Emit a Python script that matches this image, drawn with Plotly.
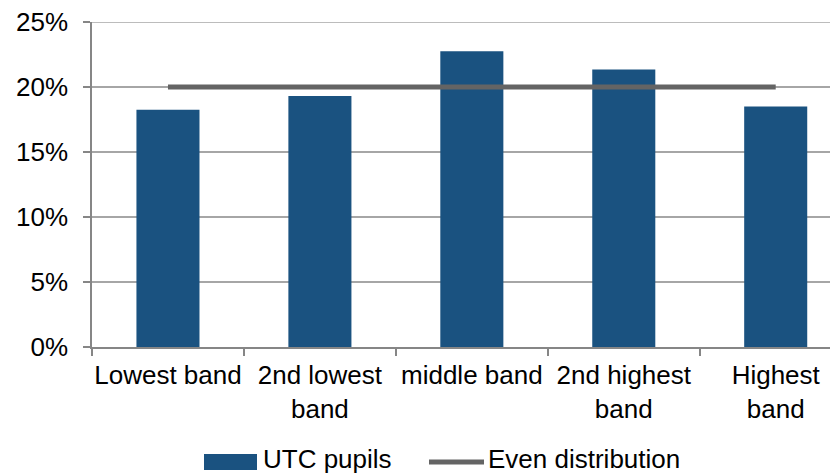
import plotly.graph_objects as go

categories = ["Lowest band", "2nd lowest<br>band", "middle band", "2nd highest<br>band", "Highest<br>band"]
utc_pupils = [18.25, 19.3, 22.75, 21.35, 18.5]
even_distribution = [20, 20, 20, 20, 20]
y_ticks = [0, 5, 10, 15, 20, 25]
y_tick_labels = ["0%", "5%", "10%", "15%", "20%", "25%"]

BAR_COLOR = "#1A5280"
LINE_COLOR = "#646464"
GRID_COLOR = "#a6a6a6"
FONT = "Liberation Sans, Arial, sans-serif"

# The page body has an 8px default margin, so the figure is 8px smaller
# and its margins are shifted to land the plot area where the original is.
fig = go.Figure()
fig.add_trace(go.Bar(x=categories, y=utc_pupils, name="UTC pupils",
                     marker=dict(color=BAR_COLOR, line=dict(width=0)),
                     showlegend=False))
fig.add_trace(go.Scatter(x=categories, y=even_distribution, name="Even distribution",
                         mode="lines", line=dict(color=LINE_COLOR, width=5),
                         showlegend=False, cliponaxis=False))

fig.update_layout(
    width=830, height=466,
    margin=dict(l=84, r=0, t=14, b=127, autoexpand=False),
    paper_bgcolor="white", plot_bgcolor="white",
    bargap=0.585,
    font=dict(family=FONT, size=26, color="#000000"),
    showlegend=False,
)
fig.update_xaxes(
    range=[-0.5, 4.41], automargin=False, tickangle=0,
    showline=True, linecolor="#868686", linewidth=1.5,
    ticks="outside", ticklen=7, tickcolor="#868686", tickwidth=1.5,
    tickson="boundaries", showgrid=False, ticklabelstandoff=4,
    ticklabeloverflow="allow",
    tickfont=dict(size=26, family=FONT),
)
fig.update_yaxes(
    range=[0, 25], tickvals=y_ticks, ticktext=y_tick_labels, automargin=False,
    showline=True, linecolor="#868686", linewidth=1.5,
    ticks="outside", ticklen=7, tickcolor="#868686", tickwidth=1.5,
    showgrid=True, gridcolor=GRID_COLOR, gridwidth=1.5,
    zeroline=False, ticklabelstandoff=10, ticklabeloverflow="allow",
    tickfont=dict(size=26, family=FONT),
)

# top gridline at the upper edge of the value axis
fig.add_shape(type="line", xref="paper", yref="y", x0=0, x1=1,
              y0=y_ticks[-1], y1=y_ticks[-1], layer="below",
              line=dict(color=GRID_COLOR, width=1.5))

# Legend drawn manually to match the wide swatches of the original
def px_x(p):
    return (p - 92) / 746.0

def px_y(q):
    return (347 - q) / 325.0

fig.add_shape(type="rect", xref="paper", yref="paper",
              x0=px_x(204), x1=px_x(257), y0=px_y(470), y1=px_y(454),
              fillcolor=BAR_COLOR, line=dict(width=0))
fig.add_shape(type="line", xref="paper", yref="paper",
              x0=px_x(429), x1=px_x(484), y0=px_y(462), y1=px_y(462),
              line=dict(color=LINE_COLOR, width=5))
fig.add_annotation(text="UTC pupils", xref="paper", yref="paper",
                   x=px_x(261), y=px_y(459), xanchor="left", yanchor="middle",
                   showarrow=False, font=dict(size=26, family=FONT, color="#000000"))
fig.add_annotation(text="Even distribution", xref="paper", yref="paper",
                   x=px_x(486), y=px_y(459), xanchor="left", yanchor="middle",
                   showarrow=False, font=dict(size=26, family=FONT, color="#000000"))

fig.write_html("out.html")
